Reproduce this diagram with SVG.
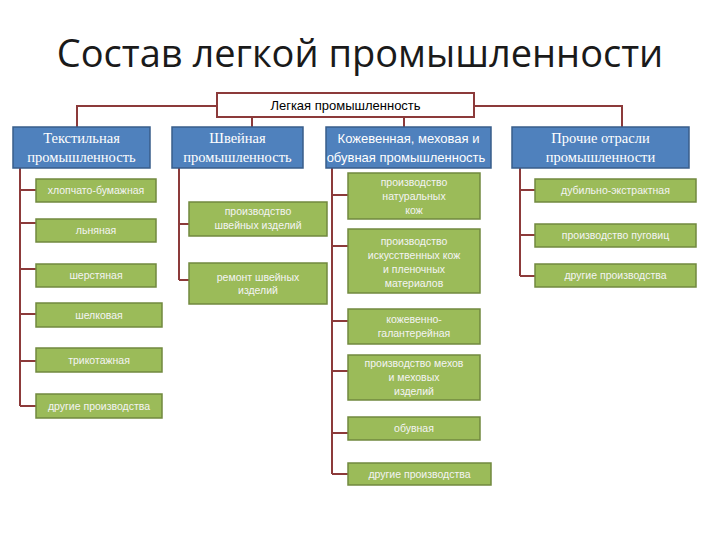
<svg xmlns="http://www.w3.org/2000/svg" width="720" height="540" viewBox="0 0 720 540">
<style>
.title{font-family:"Open Sans","Liberation Sans",sans-serif;font-size:38px;fill:#1a1a1a;text-anchor:middle}
.root rect{fill:#fff;stroke:#8c3a3a;stroke-width:2}
.root text{font-family:"Liberation Sans",sans-serif;font-size:13px;fill:#000;text-anchor:middle}
.blue rect{fill:#4f81bd;stroke:#385d8a;stroke-width:1.5}
.blue text{font-family:"Liberation Serif",serif;font-size:14.5px;fill:#fff;text-anchor:middle}
.blue text.s{font-family:"Liberation Sans",sans-serif;font-size:13px}
.green rect{fill:#9bbb59;stroke:#71893f;stroke-width:1.5}
.green text{font-family:"Liberation Sans",sans-serif;font-size:10.5px;fill:#f4f4f4;text-anchor:middle}
#connectors path{fill:none;stroke:#8c3a3a;stroke-width:2}
</style>
<rect width="720" height="540" fill="#fff"/>
<text class="title" x="360" y="67">Состав легкой промышленности</text>
<g id="connectors">
<path d="M77 127V106H217M474 106H622V127M252 117V127M404 117V127"/>
<path d="M20 168V406M20 190H36M20 223H36M20 269H36M20 314H36M20 361H36M20 406H36"/>
<path d="M179 168V280M179 224H189M179 280H189"/>
<path d="M332 168V474M332 195H348M332 246H348M332 321H348M332 371H348M332 433H348M332 474H348"/>
<path d="M520 168V276M520 190H535M520 235H535M520 276H535"/>
</g>
<g id="root" class="root"><rect x="217" y="93" width="257" height="24"/><text x="345.5" y="110">Легкая промышленность</text></g>
<g id="textile" class="blue"><rect x="13" y="127" width="137" height="41"/><text x="81.5" y="143">Текстильная</text><text x="81.5" y="162">промышленность</text></g>
<g id="shvein" class="blue"><rect x="172" y="127" width="131" height="41"/><text x="237.5" y="143">Швейная</text><text x="237.5" y="162">промышленность</text></g>
<g id="kozh" class="blue"><rect x="326" y="127" width="165" height="41"/><text class="s" x="408.5" y="143">Кожевенная, меховая и</text><text class="s" x="406" y="162">обувная промышленность</text></g>
<g id="proch" class="blue"><rect x="512" y="127" width="177" height="41"/><text x="600.5" y="143">Прочие отрасли</text><text x="600.5" y="162">промышленности</text></g>

<g id="t1" class="green"><rect x="36" y="179" width="120" height="23"/><text x="96" y="194">хлопчато-бумажная</text></g>
<g id="t2" class="green"><rect x="36" y="219" width="120" height="23"/><text x="96" y="234">льняная</text></g>
<g id="t3" class="green"><rect x="36" y="264" width="120" height="23"/><text x="96" y="279">шерстяная</text></g>
<g id="t4" class="green"><rect x="36" y="303" width="126" height="24"/><text x="99" y="319">шелковая</text></g>
<g id="t5" class="green"><rect x="36" y="348" width="126" height="24"/><text x="99" y="364">трикотажная</text></g>
<g id="t6" class="green"><rect x="36" y="394" width="126" height="24"/><text x="99" y="410">другие производства</text></g>

<g id="s1" class="green"><rect x="189" y="202" width="138" height="34"/><text x="258" y="215">производство</text><text x="258" y="229">швейных изделий</text></g>
<g id="s2" class="green"><rect x="189" y="263" width="138" height="41"/><text x="258" y="281">ремонт швейных</text><text x="258" y="294">изделий</text></g>

<g id="k1" class="green"><rect x="348" y="173" width="132" height="46"/><text x="414" y="186">производство</text><text x="414" y="200">натуральных</text><text x="414" y="214">кож</text></g>
<g id="k2" class="green"><rect x="348" y="229" width="132" height="64"/><text x="414" y="245">производство</text><text x="414" y="259">искусственных кож</text><text x="414" y="273">и пленочных</text><text x="414" y="287">материалов</text></g>
<g id="k3" class="green"><rect x="348" y="309" width="132" height="35"/><text x="414" y="323">кожевенно-</text><text x="414" y="337">галантерейная</text></g>
<g id="k4" class="green"><rect x="348" y="355" width="132" height="45"/><text x="414" y="367">производство мехов</text><text x="414" y="381">и меховых</text><text x="414" y="395">изделий</text></g>
<g id="k5" class="green"><rect x="348" y="417" width="132" height="23"/><text x="414" y="432">обувная</text></g>
<g id="k6" class="green"><rect x="348" y="463" width="143" height="22"/><text x="419.5" y="478">другие производства</text></g>

<g id="p1" class="green"><rect x="535" y="179" width="161" height="23"/><text x="615.5" y="194">дубильно-экстрактная</text></g>
<g id="p2" class="green"><rect x="535" y="224" width="161" height="23"/><text x="615.5" y="239">производство пуговиц</text></g>
<g id="p3" class="green"><rect x="535" y="264" width="161" height="23"/><text x="615.5" y="279">другие производства</text></g>
</svg>
